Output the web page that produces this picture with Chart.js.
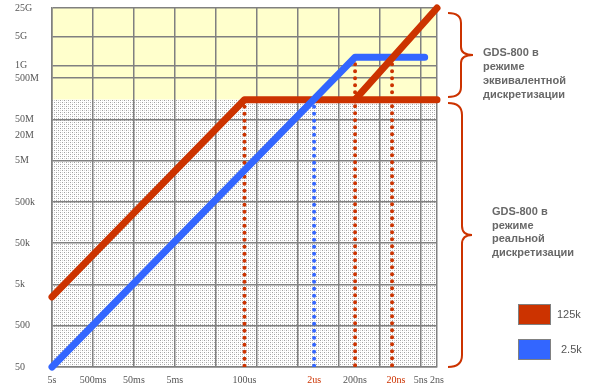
<!DOCTYPE html>
<html>
<head>
<meta charset="utf-8">
<script src="https://cdn.jsdelivr.net/npm/chart.js@4"></script>
<style>
  body { margin: 0; background: #fff; }
  #wrap { position: relative; width: 600px; height: 392px; font-family: "Liberation Sans", Arial, sans-serif; }
  #wrap canvas, #wrap svg { position: absolute; left: 0; top: 0; }
  .note { position: absolute; font-weight: bold; font-size: 11px; color: #686868; line-height: 14px; }
  .key { position: absolute; left: 518px; width: 31px; height: 19px; border: 1px solid #808080; }
  .keylbl { position: absolute; font-size: 11px; color: #555; line-height: 13px; }
</style>
</head>
<body>
<div id="wrap">
  <canvas id="myChart" width="600" height="392"></canvas>
  <svg width="600" height="392">
    <path d="M448,13 Q461,13 461,23 L461,47 Q461,55 473,55 Q461,55 461,63 L461,87 Q461,97 448,97" fill="none" stroke="#cc3300" stroke-width="2"/>
    <path d="M448,103 Q462,103 462,115 L462,226 Q462,235 472,235 Q462,235 462,244 L462,355 Q462,367 448,367" fill="none" stroke="#cc3300" stroke-width="2"/>
  </svg>
  <div class="note" style="left:483px; top:45px;">GDS-800 в<br>режиме<br>эквивалентной<br>дискретизации</div>
  <div class="note" style="left:492px; top:205px; line-height:13.5px;">GDS-800 в<br>режиме<br>реальной<br>дискретизации</div>
  <div id="legend"></div>
</div>
<script>
// x = time/div (s), y = sample rate (Sa/s)
const xGridTicks = [5, 0.5, 0.05, 0.005, 5e-4, 5e-5, 5e-6, 5e-7, 5e-8, 5e-9, 2e-9];
const xLabelTicks = [5, 0.5, 0.05, 0.005, 1e-4, 2e-6, 2e-7, 2e-8, 5e-9, 2e-9];
const xLabels = ['5s', '500ms', '50ms', '5ms', '100us', '2us', '200ns', '20ns', '5ns', '2ns'];
const xRedLabels = ['2us', '20ns'];

const yTicks = [50, 500, 5e3, 5e4, 5e5, 5e6, 2e7, 5e7, 5e8, 1e9, 5e9, 2.5e10];
const yLabels = ['50', '500', '5k', '50k', '500k', '5M', '20M', '50M', '500M', '1G', '5G', '25G'];
const yNoGrid = [2e7];

const seriesNames = ['125k', '2.5k'];
const seriesColors = ['#cc3300', '#3366ff'];

// 125k memory, real time
const redT = [5, 1e-4, 2e-9];
const redRate = [2500, 1.5e8, 1.5e8];
// 125k memory, equivalent time
const redEtsT = [2e-7, 2e-9];
const redEtsRate = [1.5e8, 2.5e10];
// 2.5k memory
const blueT = [5, 2e-7, 4e-9];
const blueRate = [50, 1.6e9, 1.6e9];

const realTimeMax = 1.5e8;

// dotted markers
const markT = [1e-4, 2e-6, 2e-7, 2.5e-8];
const markTop = [1.5e8, 1.5e8, 1.6e9, 1.6e9];
const markSeries = [0, 1, 0, 0];

const xTickVals = [...new Set([...xGridTicks, ...xLabelTicks])].sort((a, b) => b - a);

const pts = (xs, ys) => xs.map((x, i) => ({x: x, y: ys[i]}));
const lineDs = (data, color, order) => ({
  data: data, borderColor: color, borderWidth: 7,
  borderCapStyle: 'round', borderJoinStyle: 'round',
  pointRadius: 0, clip: false, order: order
});

const makeStipple = () => {
  const c = document.createElement('canvas');
  c.width = 4; c.height = 4;
  const g = c.getContext('2d');
  g.fillStyle = '#ffffff';
  g.fillRect(0, 0, 4, 4);
  g.fillStyle = '#a0a0a0';
  [[0, 0], [2, 2]].forEach(p => g.fillRect(p[0], p[1], 1, 1));
  g.fillStyle = '#d4d4d4';
  [[2, 0], [0, 2]].forEach(p => g.fillRect(p[0], p[1], 1, 1));
  return c;
};

const bgPlugin = {
  id: 'bg',
  beforeDraw(chart) {
    const {ctx, chartArea: a} = chart;
    const yb = chart.scales.y.getPixelForValue(realTimeMax);
    ctx.save();
    ctx.fillStyle = '#ffffcc';
    ctx.fillRect(a.left, a.top, a.right - a.left, yb - a.top);
    ctx.fillStyle = ctx.createPattern(makeStipple(), 'repeat');
    ctx.fillRect(a.left, yb, a.right - a.left, a.bottom - yb);
    ctx.restore();
  }
};

const markDs = markT.map((t, i) => ({
  data: [{x: t, y: markTop[i]}, {x: t, y: yTicks[0]}],
  borderColor: seriesColors[markSeries[i]], borderWidth: 4,
  borderDash: [0, 7], borderCapStyle: 'round',
  pointRadius: 0, order: 5
}));

const tickFont = {family: 'Liberation Serif', size: 10};

new Chart(document.getElementById('myChart'), {
  type: 'line',
  data: {
    datasets: [
      lineDs(pts(redEtsT, redEtsRate), seriesColors[0], 0),
      lineDs(pts(blueT, blueRate), seriesColors[1], 1),
      lineDs(pts(redT, redRate), seriesColors[0], 2),
      ...markDs
    ]
  },
  options: {
    responsive: false,
    animation: false,
    devicePixelRatio: 1,
    layout: {padding: {left: 15, right: 163, top: 8, bottom: 0}},
    plugins: {legend: {display: false}, tooltip: {enabled: false}},
    scales: {
      x: {
        type: 'logarithmic', reverse: true,
        min: 2e-9, max: 5,
        afterBuildTicks: s => { s.ticks = xTickVals.map(v => ({value: v})); },
        afterFit: s => { s.height = 25; },
        grid: {
          color: c => (c.tick && xGridTicks.includes(c.tick.value)) ? '#808080' : 'rgba(0,0,0,0)',
          lineWidth: 1.5, drawTicks: false
        },
        border: {color: '#808080', width: 1.5},
        ticks: {
          autoSkip: false, maxRotation: 0, padding: 7, font: tickFont,
          color: c => {
            const i = xLabelTicks.indexOf(c.tick.value);
            return (i >= 0 && xRedLabels.includes(xLabels[i])) ? '#cc3300' : '#555';
          },
          callback: v => {
            const i = xLabelTicks.indexOf(v);
            return i >= 0 ? xLabels[i] : '';
          }
        }
      },
      y: {
        type: 'logarithmic',
        min: 50, max: 2.5e10,
        afterBuildTicks: s => { s.ticks = yTicks.map(v => ({value: v})); },
        afterFit: s => { s.width = 37; },
        grid: {
          color: c => (c.tick && yNoGrid.includes(c.tick.value)) ? 'rgba(0,0,0,0)' : '#808080',
          lineWidth: 1.5, drawTicks: false
        },
        border: {color: '#808080', width: 1.5},
        ticks: {
          autoSkip: false, crossAlign: 'far', padding: 0, font: tickFont, color: '#555',
          callback: v => {
            const i = yTicks.indexOf(v);
            return i >= 0 ? yLabels[i] : '';
          }
        }
      }
    }
  },
  plugins: [bgPlugin]
});

// legend boxes
const legend = document.getElementById('legend');
const keyTop = [304, 339];
const lblLeft = [557, 561];
seriesNames.forEach((name, i) => {
  const box = document.createElement('div');
  box.className = 'key';
  box.style.top = keyTop[i] + 'px';
  box.style.background = seriesColors[i];
  legend.appendChild(box);
  const lbl = document.createElement('div');
  lbl.className = 'keylbl';
  lbl.style.left = lblLeft[i] + 'px';
  lbl.style.top = (keyTop[i] + 4) + 'px';
  lbl.textContent = name;
  legend.appendChild(lbl);
});
</script>
</body>
</html>
